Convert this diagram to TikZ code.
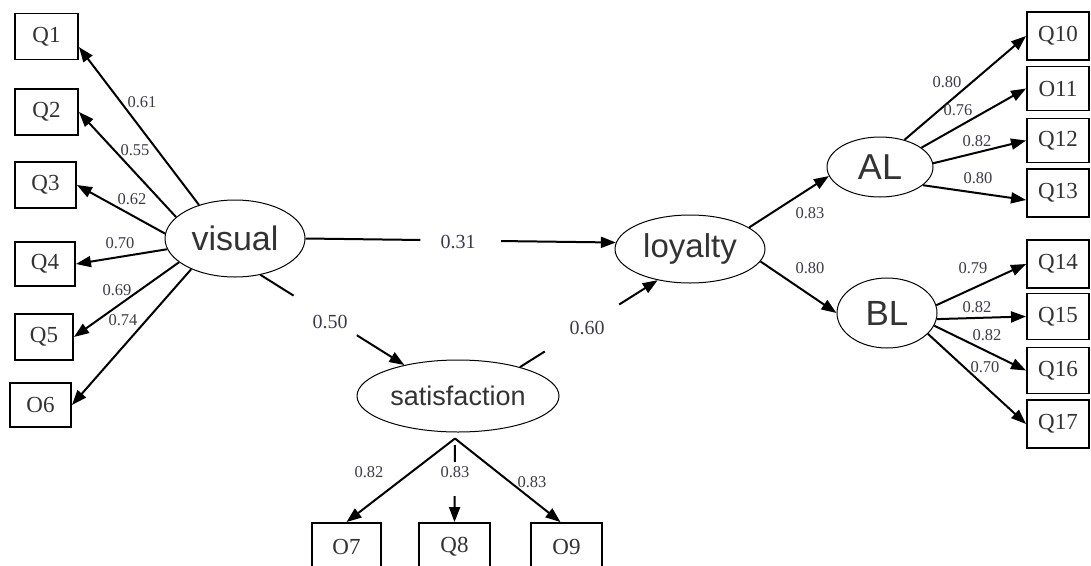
\documentclass[tikz,border=0pt]{standalone}
\usepackage{fontspec}
\setmainfont{Liberation Serif}
\newfontfamily\arialf{Liberation Sans}
\usetikzlibrary{arrows.meta,shapes.geometric,calc}
\definecolor{txt}{HTML}{333333}
\definecolor{lblc}{HTML}{3C3C48}
\begin{document}
\begin{tikzpicture}[x=1pt,y=-1pt,
  box/.style={draw, line width=1.9pt, minimum width=63pt, minimum height=46pt, inner sep=0pt, text=txt, font=\fontsize{23}{23}\selectfont},
  lat/.style={draw, ellipse, line width=1pt, inner sep=0pt, text=txt},
  lbl/.style={text=lblc, inner sep=0pt, font=\fontsize{16.5}{16.5}\selectfont},
  blbl/.style={text=lblc, inner sep=0pt, font=\fontsize{20}{20}\selectfont},
  arr/.style={line width=2pt, -{Triangle[length=15pt,width=11pt]}},
  ln/.style={line width=2pt},
]
\useasboundingbox (0,0) rectangle (1091,565);
\fill[white] (0,0) rectangle (1091,565);
\clip (0,0) rectangle (1091,565);

% latent variables
\node[lat, minimum width=140pt, minimum height=77pt, font=\arialf\fontsize{34}{34}\selectfont] (visual) at (235,238.5) {visual};
\node[lat, minimum width=150pt, minimum height=68pt, font=\arialf\fontsize{33}{33}\selectfont] (loyalty) at (690,249) {loyalty};
\node[lat, minimum width=202pt, minimum height=72pt, font=\arialf\fontsize{27}{27}\selectfont] (satisfaction) at (458,396) {satisfaction};
\node[lat, minimum width=106pt, minimum height=60pt, font=\arialf\fontsize{36}{36}\selectfont] (AL) at (880,167) {AL};
\node[lat, minimum width=100pt, minimum height=70pt, font=\arialf\fontsize{35}{35}\selectfont] (BL) at (887,313) {BL};

% left indicators
\node[box] (Q1) at (46.5,36.5) {Q1};
\node[box] (Q2) at (46.5,112) {Q2};
\node[box, minimum width=61pt] (Q3) at (45.5,185) {Q3};
\node[box, minimum width=60pt, minimum height=44pt] (Q4) at (45,264) {Q4};
\node[box, minimum width=58pt] (Q5) at (44,337) {Q5};
\node[box, minimum width=61pt, minimum height=44pt] (Q6) at (40.5,405) {O6};

% bottom indicators
\node[box, minimum width=69pt, minimum height=47pt] (O7) at (346.5,546.5) {O7};
\node[box, minimum width=71pt, minimum height=47pt] (Q8) at (454.5,546.5) {Q8};
\node[box, minimum width=71pt, minimum height=47pt] (O9) at (566.5,546.5) {O9};

% right indicators
\node[box, minimum width=62pt, minimum height=48pt] (Q10) at (1058,36) {Q10};
\node[box, minimum width=62pt, minimum height=44pt] (Q11) at (1058,88.5) {O11};
\node[box, minimum width=62pt, minimum height=44pt] (Q12) at (1058,140.5) {Q12};
\node[box, minimum width=62pt, minimum height=48pt] (Q13) at (1058,193) {Q13};
\node[box, minimum width=62pt, minimum height=48pt] (Q14) at (1058,264) {Q14};
\node[box, minimum width=62pt, minimum height=46pt] (Q15) at (1058,316.5) {Q15};
\node[box, minimum width=62pt, minimum height=46pt] (Q16) at (1058,370.5) {Q16};
\node[box, minimum width=62pt, minimum height=48pt] (Q17) at (1058,424) {Q17};

% visual loadings
\draw[arr] (visual.137) -- (Q1.-18);
\draw[arr] (visual.160) -- (Q2.east);
\draw[arr] (visual.176) -- (Q3.east);
\draw[arr] (visual.189) -- (Q4.east);
\draw[arr] (visual.203) -- (Q5.east);
\draw[arr] (visual.215) -- (Q6.east);

% structural paths (broken by their labels)
\draw[ln] (visual.east) -- ($(visual.east)!0.37!(loyalty.175)$);
\draw[arr] ($(visual.east)!0.63!(loyalty.175)$) -- (loyalty.175);
\draw[ln] (visual.-55) -- ($(visual.-55)!0.23!(satisfaction.150)$);
\draw[arr] ($(visual.-55)!0.67!(satisfaction.150)$) -- (satisfaction.150);
\draw[ln] (satisfaction.25) -- ($(satisfaction.25)!0.18!(loyalty.224)$);
\draw[arr] ($(satisfaction.25)!0.72!(loyalty.224)$) -- (loyalty.224);

% satisfaction loadings
\coordinate (sapex) at ($(satisfaction.south)+(-3,6)$);
\draw[arr] (sapex) -- (O7.north);
\draw[arr] (sapex) -- ([xshift=-6pt]O9.north);
\draw[ln] ($(sapex)!0.08!(Q8.north)$) -- ($(sapex)!0.28!(Q8.north)$);
\draw[arr] ($(sapex)!0.69!(Q8.north)$) -- (Q8.north);

% loyalty to AL / BL
\draw[arr] (loyalty.20) -- (AL.190);
\draw[arr] (loyalty.-10) -- (BL.west);

% AL loadings
\draw[arr] (AL.48) -- (Q10.west);
\draw[arr] (AL.25) -- (Q11.west);
\draw[arr] (AL.4) -- (Q12.west);
\draw[arr] (AL.-23) -- ([yshift=-7pt]Q13.west);

% BL loadings
\draw[arr] (BL.9) -- (Q14.west);
\draw[arr] (BL.-7) -- (Q15.west);
\draw[arr] (BL.-15) -- (Q16.west);
\draw[arr] (BL.-27) -- (Q17.west);

% labels
\node[lbl] (l1) at (142,102) {0.61};
\node[lbl] (l2) at (135,150) {0.55};
\node[lbl] (l3) at (132,199) {0.62};
\node[lbl] (l4) at (120,243) {0.70};
\node[lbl] (l5) at (117,290) {0.69};
\node[lbl] (l6) at (123,320) {0.74};
\node[blbl] (l31) at (458,242) {0.31};
\node[blbl] (l50) at (330,322) {0.50};
\node[blbl] (l60) at (587,328) {0.60};
\node[lbl] (l7) at (369,472) {0.82};
\node[lbl] (l8) at (455,472) {0.83};
\node[lbl] (l9) at (532,482) {0.83};
\node[lbl] (lal) at (810,213) {0.83};
\node[lbl] (lbl) at (810,268) {0.80};
\node[lbl] (l10) at (947,82) {0.80};
\node[lbl] (l11) at (958,110) {0.76};
\node[lbl] (l12) at (977,141) {0.82};
\node[lbl] (l13) at (978,178) {0.80};
\node[lbl] (l14) at (973,268) {0.79};
\node[lbl] (l15) at (977,307) {0.82};
\node[lbl] (l16) at (987,335) {0.82};
\node[lbl] (l17) at (985,367) {0.70};
\end{tikzpicture}
\end{document}
